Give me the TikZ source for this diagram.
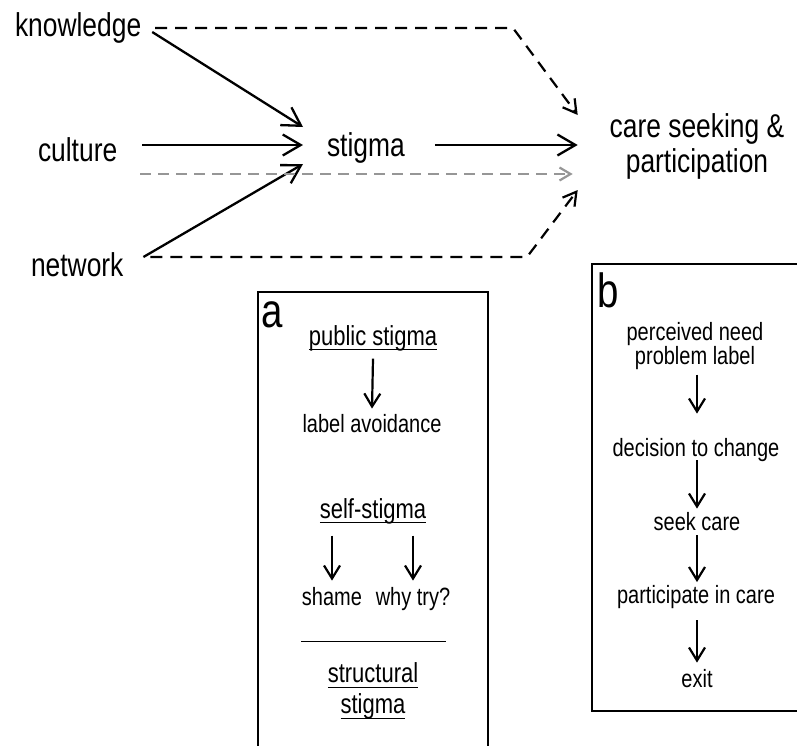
\documentclass[tikz,border=0pt]{standalone}
\usepackage{fontspec}
\setmainfont{Liberation Sans}[FakeStretch=0.8]
\usetikzlibrary{arrows.meta}
\definecolor{dgray}{RGB}{150,150,150}
\newcommand\fbig{\fontsize{33}{35}\selectfont}
\newcommand\fsmall{\fontsize{25}{21.5}\selectfont}
\newcommand\fhead{\fontsize{27.5}{31}\selectfont}
\newcommand\fletter{\fontsize{48}{50}\selectfont}
\newcommand\myul[1]{\setbox0\hbox{#1}\rlap{\raisebox{-5pt}{\rule{\wd0}{1.3pt}}}\box0}
\begin{document}
\begin{tikzpicture}[x=1pt,y=-1pt,
  lbl/.style={inner sep=0pt,outer sep=0pt},
  big/.style={lbl,font=\fbig},
  small/.style={lbl,font=\fsmall},
  head/.style={lbl,font=\fhead},
  arrbig/.style={line width=2.3pt,-{Straight Barb[length=18pt,width=21pt]}},
  dasharr/.style={line width=2.2pt,dash pattern=on 12pt off 8pt,-{Straight Barb[length=13pt,width=15pt]}},
  grayarr/.style={line width=2.2pt,draw=dgray,dash pattern=on 11pt off 7pt,-{Straight Barb[length=11pt,width=13pt]}},
  arrsmall/.style={line width=2.2pt,-{Straight Barb[length=13pt,width=16pt]}},
  frame/.style={line width=2pt}]
\useasboundingbox (0,0) rectangle (797,745);

% top part
\node[big,anchor=base west] (know) at (15,36) {knowledge};
\node[big,anchor=base west] (cult) at (38,161) {culture};
\node[big,anchor=base west] (netw) at (31,276) {network};
\node[big,anchor=base west] (stig) at (327,156) {stigma};
\node[big,align=center] (care) at (697,146) {care seeking \&\\participation};

\coordinate (kb) at (513,28);
\coordinate (nb) at (527,257);

\draw[arrbig] ([shift={(11,-4)}]know.base east) -- ([shift={(-24,-29)}]stig.base west);
\draw[arrbig] ([shift={(25,-16)}]cult.base east) -- ([shift={(-24,-11)}]stig.base west);
\draw[arrbig] ([shift={(20,-19)}]netw.base east) -- ([shift={(-24,8)}]stig.base west);
\draw[arrbig] ([shift={(30,-11)}]stig.base east) -- ([shift={(-32,-1)}]care.west);
\draw[grayarr] ([shift={(23,13)}]cult.base east) -- ([shift={(-37,28)}]care.west);
\draw[dasharr] ([shift={(14,-8)}]know.base east) -- (kb) -- ([shift={(-32,-31)}]care.west);
\draw[dasharr] ([shift={(27,-19)}]netw.base east) -- (nb) -- ([shift={(-32,44)}]care.west);

% panel a
\draw[frame] (258,746) -- (258,292) -- (488,292) -- (488,746);
\node[lbl,font=\fletter,anchor=base west] (pa) at (261,327) {a};
\node[head,anchor=base] (ps) at (373,345) {\myul{public stigma}};
\node[small,anchor=base] (lav) at (372,432) {label avoidance};
\node[head,anchor=base] (ss) at (373,518) {\myul{self-stigma}};
\node[small,anchor=base] (sh) at (332,605) {shame};
\node[small,anchor=base] (wt) at (413,605) {why try?};
\draw[line width=1pt] (301,641) -- (446,641);
\node[head,align=center,anchor=north] (st) at (373,663) {\myul{structural}\\\myul{stigma}};

\draw[arrsmall] ([yshift=-8pt]ps.south) -- ([yshift=5.3pt]lav.north);
\draw[arrsmall] ([yshift=-12pt]sh.north |- ss.south) -- ([yshift=6.3pt]sh.north);
\draw[arrsmall] ([yshift=-12pt]wt.north |- ss.south) -- ([yshift=6.3pt]wt.north);

% panel b
\draw[frame] (800,264) -- (592,264) -- (592,711) -- (800,711);
\node[lbl,font=\fletter,anchor=base west] (pb) at (597,307) {b};
\node[small,align=center,anchor=north] (pn) at (695,322) {perceived need\\problem label};
\node[small,anchor=base] (dc) at (696,456) {decision to change};
\node[small,anchor=base] (sc) at (697,530) {seek care};
\node[small,anchor=base] (pc) at (696,603) {participate in care};
\node[small,anchor=base] (ex) at (697,687) {exit};

\draw[arrsmall] ([yshift=-5pt]sc.north |- pn.south) -- ([yshift=24.3pt]sc.north |- dc.north);
\draw[arrsmall] ([yshift=1pt]sc.north |- dc.south) -- ([yshift=3.3pt]sc.north);
\draw[arrsmall] ([yshift=-5pt]sc.south) -- ([yshift=2.8pt]sc.north |- pc.north);
\draw[arrsmall] ([yshift=-12pt]sc.north |- pc.south) -- ([yshift=6.3pt]ex.north);
\end{tikzpicture}
\end{document}
